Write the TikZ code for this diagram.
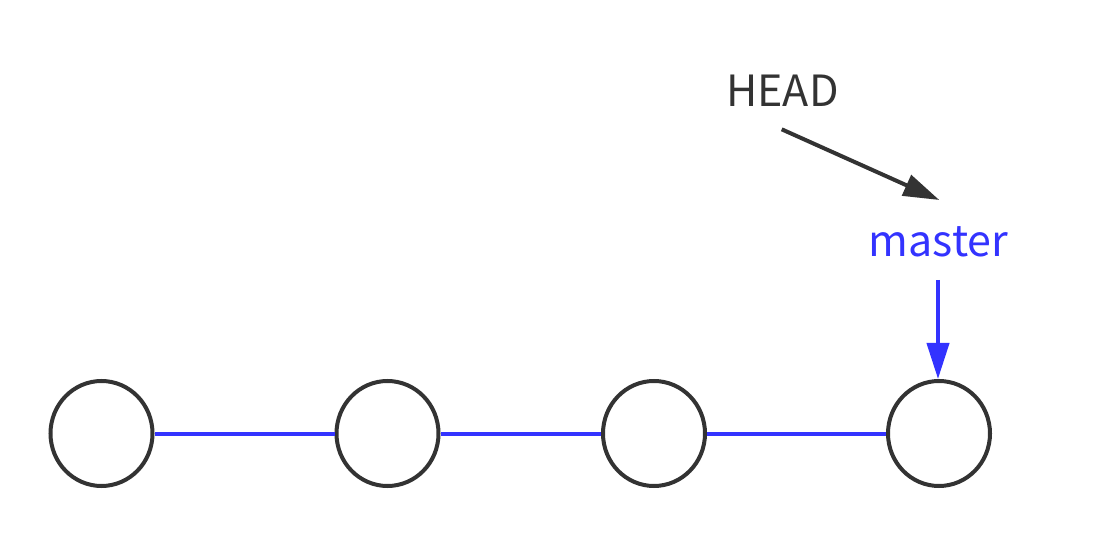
\documentclass[tikz,border=0pt]{standalone}
\usepackage{fontspec}
\setmainfont{Noto Sans CJK SC}
\usetikzlibrary{arrows.meta,shapes.geometric}
\definecolor{ink}{RGB}{51,51,51}
\definecolor{blu}{RGB}{51,51,255}
\begin{document}
\begin{tikzpicture}[x=1bp,y=-1bp,
  commit/.style={ellipse,draw=ink,line width=4bp,minimum width=102bp,minimum height=105bp,inner sep=0pt},
  link/.style={draw=blu,line width=4bp},
  lbl/.style={inner sep=0pt,anchor=base,font=\fontsize{43bp}{48bp}\selectfont},
  tipk/.style={-{Triangle[length=36bp,width=22bp]}}
]
\useasboundingbox (0,0) rectangle (1108,538);
\node[commit] (c1) at (101.5,433.5) {};
\node[commit] (c2) at (387.5,433.5) {};
\node[commit] (c3) at (654,433.5) {};
\node[commit] (c4) at (939,433.5) {};
\draw[link] (c1.east) -- (c2.west);
\draw[link] (c2.east) -- (c3.west);
\draw[link] (c3.east) -- (c4.west);
\node[lbl,text=ink] (head) at (782.5,106.5) {HEAD};
\node[lbl,text=blu] (master) at (938.5,256.5) {master};
\coordinate (hs) at (781.7,129.3);
\coordinate (ht) at (939.3,200);
\draw[ink,line width=4bp,tipk] (hs) -- (ht);
\coordinate (ms) at (938,280);
\draw[blu,line width=4bp,tipk] (ms) -- (ms |- c4.north);
\end{tikzpicture}
\end{document}
